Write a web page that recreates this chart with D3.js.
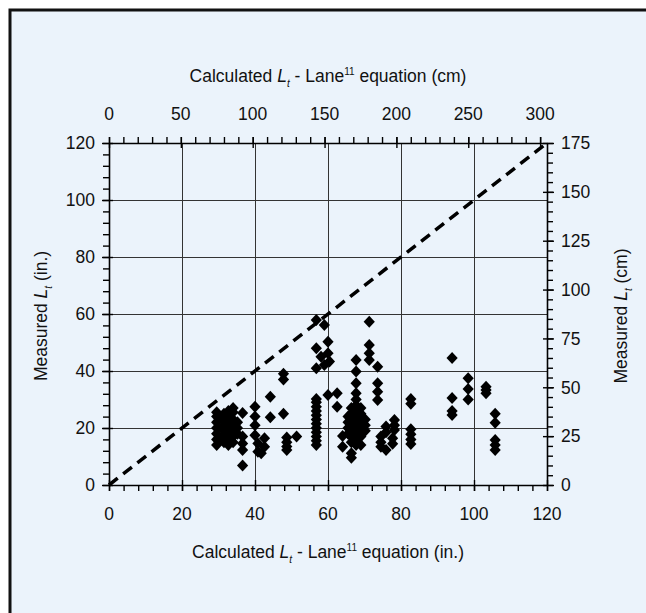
<!DOCTYPE html>
<html>
<head>
<meta charset="utf-8">
<script src="https://cdn.jsdelivr.net/npm/d3@7"></script>
<style>
  html, body { margin: 0; padding: 0; background: #ffffff; }
  svg { display: block; font-family: "Liberation Sans", Arial, Helvetica, sans-serif; }
</style>
</head>
<body>
<svg id="chart" width="646" height="613"></svg>
<script>
// Calculated transfer length (in.), one entry per group of specimens
const calculatedIn = [
  29.5, 31.5, 32.7, 34, 35.2, 36.6, 40, 40.8, 41.7, 42.6,
  44.2, 47.8, 48.7, 51.4, 56.8, 58.1, 59, 60, 60.4, 62.5,
  64, 65.5, 66.4, 67.7, 69, 70.2, 71.3, 73.6, 74.5, 75.9,
  77.7, 78.2, 82.7, 94, 98.4, 103.3, 105.8
];

// Measured transfer lengths (in.) for each group above
const measuredIn = [
  [14, 16, 18, 20, 22, 24, 25.5],
  [15, 17, 19, 21, 23, 25],
  [14, 16, 18, 20, 22, 24, 26],
  [15, 17, 19, 21, 23, 25.5, 27],
  [18, 20, 22],
  [6.8, 12.3, 14.6, 17, 25.3],
  [17.5, 21, 24, 27.5],
  [11.7, 14.6],
  [11.1],
  [13.4, 16.4],
  [23.8, 31],
  [25, 37, 39],
  [12.3, 13.5, 15, 16.7],
  [17],
  [14, 15.5, 17, 18.5, 20, 21.5, 23, 24.5, 26, 27.5, 29, 30.2, 41, 48, 57.9],
  [45],
  [42.1, 56.1],
  [31.6, 46.2, 50.3],
  [43.3],
  [27.5, 32.2],
  [13.4, 17.2],
  [18, 20, 22, 24],
  [9.6, 11.1, 15, 17, 19, 21, 23, 25, 27],
  [14, 16, 18, 20, 22, 24, 26, 28, 30, 32.2, 35.7, 39.8, 43.9],
  [14, 17, 19, 21, 23, 25, 27],
  [19, 21, 23],
  [43.9, 46.2, 49.1, 57.3],
  [29.8, 32.7, 35.7, 41.5],
  [13.4, 15, 17],
  [12.3, 18.5, 20.5],
  [14.5, 16.4],
  [19.3, 21, 22.8],
  [14.4, 16, 17.8, 19.6, 28.5, 30.2],
  [24.6, 26, 30.5, 44.6],
  [30, 33.7, 37.5],
  [32.2, 33.3, 34.5],
  [12.3, 14, 15.8, 21.8, 25]
];

// Line of equality (measured = calculated)
const equalityLine = [[0, 0], [120, 120]];

// Axis ticks
const inchTicks = [0, 20, 40, 60, 80, 100, 120];
const inchGrid = [20, 40, 60, 80, 100];
const cmTopTicks = [0, 50, 100, 150, 200, 250, 300];
const cmRightTicks = [0, 25, 50, 75, 100, 125, 150, 175];

const svg = d3.select("#chart");
const W = 646, H = 613;
const plot = { left: 109, right: 547, top: 143, bottom: 485 };

// Panel background with heavy frame
svg.append("rect").attr("width", W).attr("height", H).attr("fill", "#ffffff");
svg.append("rect")
  .attr("x", 10).attr("y", 10).attr("width", W + 20).attr("height", H + 20)
  .attr("fill", "#ebf3fb").attr("stroke", "#111").attr("stroke-width", 3);

const x = d3.scaleLinear().domain([0, 120]).range([plot.left, plot.right]);
const y = d3.scaleLinear().domain([0, 120]).range([plot.bottom, plot.top]);
const xCm = d3.scaleLinear().domain([0, 120 * 2.54]).range([plot.left, plot.right]);
const yCm = d3.scaleLinear().domain([0, 175]).range([plot.bottom, plot.top]);

// Grid
const grid = svg.append("g").attr("stroke", "#333").attr("stroke-width", 1);
grid.selectAll("line.v").data(inchGrid).join("line")
  .attr("x1", d => x(d) + 0.5).attr("x2", d => x(d) + 0.5)
  .attr("y1", plot.top).attr("y2", plot.bottom);
grid.selectAll("line.h").data(inchGrid).join("line")
  .attr("y1", d => Math.round(y(d)) + 0.5).attr("y2", d => Math.round(y(d)) + 0.5)
  .attr("x1", plot.left).attr("x2", plot.right);

// Axes: minor ticks outward, major ticks cross the axis line
function styleAxis(g) {
  g.select(".domain").attr("stroke", "#000").attr("stroke-width", 1.6);
  g.selectAll(".tick line").attr("stroke", "#000").attr("stroke-width", 1.4);
  g.selectAll("text").remove();
}
function minorAxis(axisFn, scale, step, max) {
  return axisFn(scale).tickValues(d3.range(0, max + 1e-9, step)).tickSize(6).tickSizeOuter(0).tickFormat("");
}

const axesG = svg.append("g");
// bottom (in.)
axesG.append("g").attr("transform", `translate(0,${plot.bottom})`)
  .call(minorAxis(d3.axisBottom, x, 4, 120)).call(styleAxis);
axesG.append("g").attr("transform", `translate(0,${plot.bottom + 6})`)
  .call(d3.axisTop(x).tickValues(inchTicks).tickSize(11).tickSizeOuter(0)).call(styleAxis)
  .select(".domain").remove();
// left (in.)
axesG.append("g").attr("transform", `translate(${plot.left},0)`)
  .call(minorAxis(d3.axisLeft, y, 4, 120)).call(styleAxis);
axesG.append("g").attr("transform", `translate(${plot.left - 7},0)`)
  .call(d3.axisRight(y).tickValues(inchTicks).tickSize(11).tickSizeOuter(0)).call(styleAxis)
  .select(".domain").remove();
// top (cm)
axesG.append("g").attr("transform", `translate(0,${plot.top})`)
  .call(minorAxis(d3.axisTop, xCm, 10, 300)).call(styleAxis);
axesG.append("g").attr("transform", `translate(0,${plot.top - 6})`)
  .call(d3.axisBottom(xCm).tickValues(cmTopTicks).tickSize(11).tickSizeOuter(0)).call(styleAxis)
  .select(".domain").remove();
// right (cm)
axesG.append("g").attr("transform", `translate(${plot.right},0)`)
  .call(minorAxis(d3.axisRight, yCm, 5, 175)).call(styleAxis);
axesG.append("g").attr("transform", `translate(${plot.right + 7},0)`)
  .call(d3.axisLeft(yCm).tickValues(cmRightTicks).tickSize(11).tickSizeOuter(0)).call(styleAxis)
  .select(".domain").remove();

// Tick labels
const fs = 17.5;
const lab = svg.append("g").attr("font-size", fs).attr("fill", "#111");
lab.selectAll("text.b").data(inchTicks).join("text")
  .attr("x", d => x(d)).attr("y", 520).attr("text-anchor", "middle").text(d => d);
lab.selectAll("text.l").data(inchTicks).join("text")
  .attr("x", 95).attr("y", d => y(d) + 6.3).attr("text-anchor", "end").text(d => d);
lab.selectAll("text.t").data(cmTopTicks).join("text")
  .attr("x", d => xCm(d)).attr("y", 120).attr("text-anchor", "middle").text(d => d);
lab.selectAll("text.r").data(cmRightTicks).join("text")
  .attr("x", 561).attr("y", d => yCm(d) + 6.3).attr("text-anchor", "start").text(d => d);

// Axis titles with italic L and subscript t
function title(sel, prefix, suffix, lane) {
  sel.append("tspan").text(prefix);
  sel.append("tspan").attr("font-style", "italic").text("L");
  sel.append("tspan").attr("font-style", "italic").attr("font-size", 10).attr("dy", 5).text("t");
  if (lane) {
    sel.append("tspan").attr("dy", -5).text(" - Lane");
    sel.append("tspan").attr("font-size", 10).attr("dy", -7).text("11");
    sel.append("tspan").attr("dy", 7).text(suffix);
  } else {
    sel.append("tspan").attr("dy", -5).text(suffix);
  }
}
const titles = svg.append("g").attr("font-size", fs).attr("fill", "#111");
titles.append("text").attr("x", 328).attr("y", 82).attr("text-anchor", "middle")
  .call(title, "Calculated ", " equation (cm)", true);
titles.append("text").attr("x", 328).attr("y", 558).attr("text-anchor", "middle")
  .call(title, "Calculated ", " equation (in.)", true);
titles.append("text").attr("text-anchor", "middle")
  .attr("transform", "translate(47,316) rotate(-90)")
  .call(title, "Measured ", "  (in.)", false);
titles.append("text").attr("text-anchor", "middle")
  .attr("transform", "translate(627,316) rotate(-90)")
  .call(title, "Measured ", "  (cm)", false);

// Equality line
svg.append("path")
  .datum(equalityLine)
  .attr("d", d3.line().x(d => x(d[0])).y(d => y(d[1])))
  .attr("fill", "none").attr("stroke", "#000").attr("stroke-width", 3.5)
  .attr("stroke-dasharray", "11,7");

// Data points (diamonds)
const points = calculatedIn.flatMap((c, i) => measuredIn[i].map(m => ({ c, m })));
const diamond = "M0,-6L5.6,0L0,6L-5.6,0Z";
svg.append("g").selectAll("path").data(points).join("path")
  .attr("d", diamond)
  .attr("transform", d => `translate(${x(d.c)},${y(d.m)})`)
  .attr("fill", "#000");
</script>
</body>
</html>
